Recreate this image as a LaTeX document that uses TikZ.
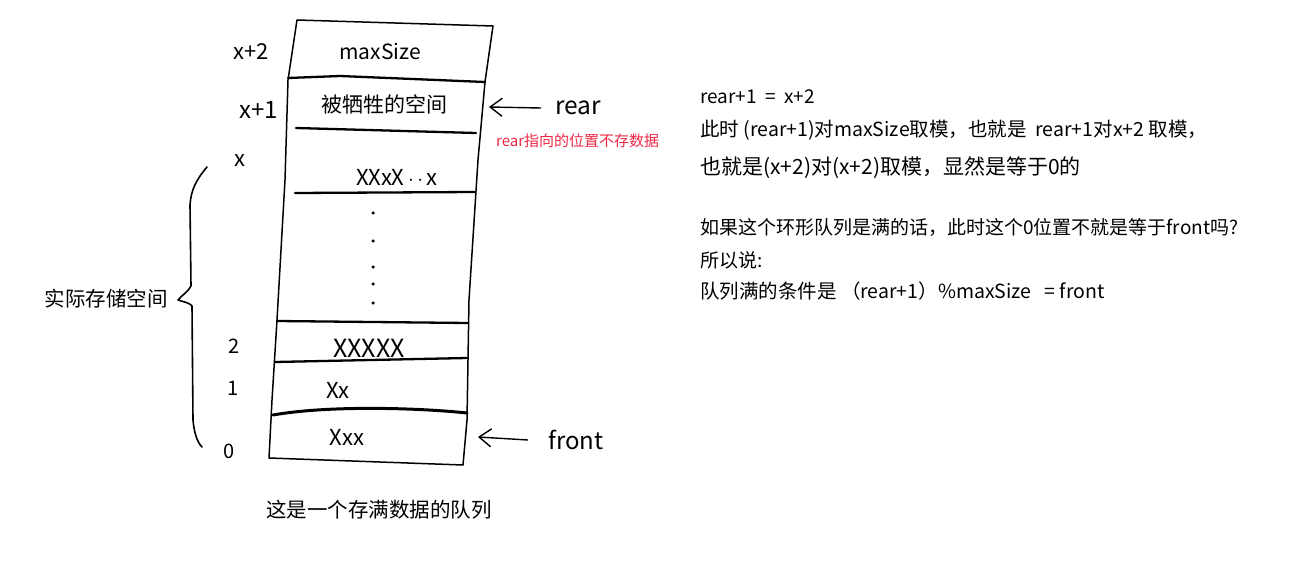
\documentclass[tikz,border=0pt]{standalone}
\usepackage{fontspec}
\setmainfont{Noto Sans CJK SC}
\usetikzlibrary{arrows.meta}
\begin{document}
\begin{tikzpicture}[x=1pt,y=-1pt,
  edge/.style={line width=1.5pt, line cap=round, line join=round},
  rule/.style={line width=2.3pt, line cap=round},
  lbl/.style={font=\fontsize{20}{24}\selectfont, inner sep=0pt},
  cell/.style={font=\fontsize{21}{24}\selectfont, inner sep=0pt},
  hand/.style={font=\fontsize{22}{26}\selectfont, inner sep=0pt},
  note/.style={font=\fontsize{19}{22}\selectfont, inner sep=0pt, anchor=west},
  ptr/.style={line width=1.4pt, -{Straight Barb[length=12pt,width=18pt,line width=1.4pt]}},
  dotm/.style={circle, fill=black, inner sep=0pt, minimum size=3.5pt}]
\useasboundingbox (0,0) rectangle (1304,588);
% box outline
\draw[edge] (297,20) -- (493,26) -- (485,82) -- (478,160) -- (469,300) -- (467,420) -- (463,465)
  -- (269,458) -- (272,400) -- (277,320) -- (285,180) -- (288,80) -- cycle;
% cell rules
\draw[rule] (288,78) -- (340,76) -- (485,82);
\draw[rule] (296,128) -- (476,133);
\draw[rule] (295,193) -- (475,192);
\draw[rule] (277,321) -- (468,323);
\draw[rule] (275,362) -- (467,358);
\draw[line width=3pt, line cap=round] (273,415) .. controls (330,405) and (420,408) .. (467,413);
% index labels
\node[lbl, font=\fontsize{22}{26}\selectfont] (i5) at (251,52) {x+2};
\node[lbl, font=\fontsize{24}{28}\selectfont] (i4) at (259,110) {x+1};
\node[lbl, font=\fontsize{22}{26}\selectfont] (i3) at (240,161) {x};
\node[lbl] (i2) at (234,346) {2};
\node[lbl] (i1) at (233,388) {1};
\node[lbl] (i0) at (229,451) {0};
% cell contents
\node[cell] (c5) at (380,52) {maxSize};
\node[cell] (c4) at (384,104) {被牺牲的空间};
\node[hand] (c3) at (397,177) {XXxX\,$\cdot\,\cdot$\,x};
\node[hand, font=\fontsize{25}{28}\selectfont] (c2) at (369,348) {XXXXX};
\node[hand] (c1) at (338,390) {Xx};
\node[hand] (c0) at (347,437) {Xxx};
% dots
\foreach \yy/\nm in {213/d1,241/d2,267/d3,284/d4,303/d5}
  \node[dotm] (\nm) at (373,\yy) {};
% pointers
\node[font=\fontsize{24.5}{28}\selectfont, inner sep=0pt, anchor=west] (rear) at (555,108) {rear};
\coordinate (rearTip) at (489,107);
\draw[ptr] ([xshift=-14pt]rear.west) -- (rearTip);
\node[font=\fontsize{15}{18}\selectfont, inner sep=0pt, anchor=west, text={rgb,255:red,240;green,40;blue,70}] (rnote) at (496,141) {rear指向的位置不存数据};
\node[font=\fontsize{24}{28}\selectfont, inner sep=0pt, anchor=west] (front) at (548,440) {front};
\coordinate (frontTip) at (478,437);
\draw[ptr] ([xshift=-20pt]front.west) -- (frontTip);
% brace
\draw[edge, line width=1.6pt] (207,167) .. controls (196,180) and (191,190) .. (190,205)
  -- (191,286) .. controls (188,292) and (182,295) .. (178,300)
  .. controls (184,302) and (190,303) .. (192,306)
  -- (193,420) .. controls (194,432) and (197,442) .. (202,447);
\coordinate (braceTip) at (178,300);
\node[font=\fontsize{20.5}{24}\selectfont, inner sep=0pt, anchor=east] (store) at (168,299) {实际存储空间};
% caption
\node[font=\fontsize{20.5}{24}\selectfont, inner sep=0pt] (cap) at (379,510) {这是一个存满数据的队列};
% explanation
\node[note] (t1) at (700,97) {rear+1 \ = \ x+2};
\node[note, font=\fontsize{19.5}{22}\selectfont] (t2) at (700,130) {此时 (rear+1)对maxSize取模，也就是 \ rear+1对x+2 取模，};
\node[note, font=\fontsize{21}{24}\selectfont] (t3) at (700,168) {也就是(x+2)对(x+2)取模，显然是等于0的};
\node[note] (t4) at (700,227) {如果这个环形队列是满的话，此时这个0位置不就是等于front吗?};
\node[note] (t5) at (700,260) {所以说:};
\node[note, font=\fontsize{19.5}{22}\selectfont] (t6) at (700,291) {队列满的条件是 （rear+1）\%maxSize\ \ \ = front};
\end{tikzpicture}
\end{document}
